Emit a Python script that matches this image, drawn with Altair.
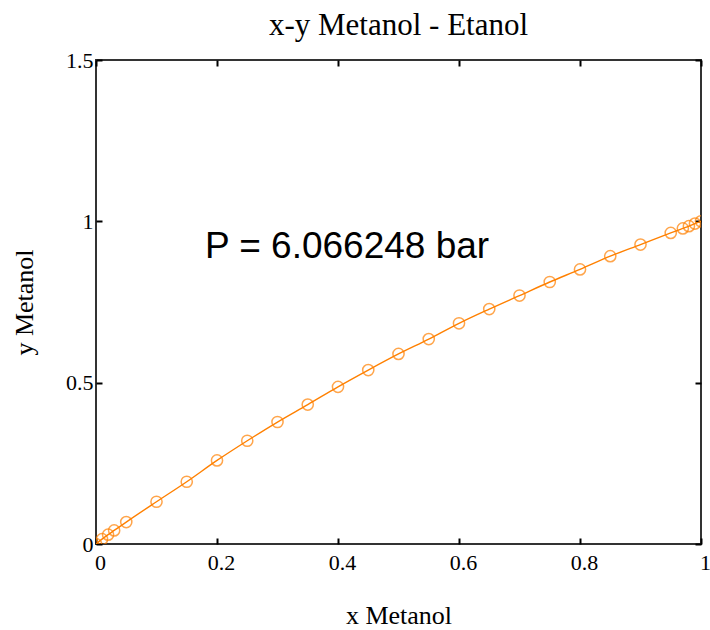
import altair as alt
import pandas as pd

# Liquid (x) and vapour (y) mole fractions of methanol
x_metanol = [0.00, 0.01, 0.02, 0.03, 0.05, 0.10, 0.15, 0.20, 0.25, 0.30, 0.35,
             0.40, 0.45, 0.50, 0.55, 0.60, 0.65, 0.70, 0.75, 0.80, 0.85, 0.90,
             0.95, 0.97, 0.98, 0.99, 1.00]
y_metanol = [0.000, 0.015, 0.029, 0.042, 0.068, 0.131, 0.193, 0.259, 0.320, 0.378, 0.432,
             0.487, 0.539, 0.589, 0.635, 0.684, 0.728, 0.770, 0.812, 0.851, 0.892, 0.928,
             0.964, 0.978, 0.985, 0.993, 1.000]

x_ticks = [0, 0.2, 0.4, 0.6, 0.8, 1.0]
y_ticks = [0, 0.5, 1.0, 1.5]

pressure_text = ["P = 6.066248 bar"]
pressure_x = [0.18]
pressure_y = [0.886]

ORANGE = "#ff8000"
SERIF = "Liberation Serif"

df = pd.DataFrame({"x": x_metanol, "y": y_metanol})
df_label = pd.DataFrame({"x": pressure_x, "y": pressure_y, "t": pressure_text})

xs = alt.Scale(domain=[0, 1], nice=False, zero=False)
ys = alt.Scale(domain=[0, 1.5], nice=False, zero=False)

common_axis = dict(
    grid=False, domain=False, tickSize=6, offset=-6, tickColor="black", tickWidth=2,
    labelFont=SERIF, labelFontSize=22, labelColor="black", labelFlush=False,
    titleFont=SERIF, titleFontSize=26, titleFontWeight="normal", titleColor="black",
    format="~g",
)

line = alt.Chart(df).mark_line(color=ORANGE, strokeWidth=1.4, interpolate="monotone", clip=True).encode(
    x=alt.X("x:Q", scale=xs, axis=alt.Axis(orient="bottom", values=x_ticks, title="x Metanol",
                                           labelPadding=8, labelOffset=4, titleY=85,
                                           titleBaseline="alphabetic", **common_axis)),
    y=alt.Y("y:Q", scale=ys, axis=alt.Axis(orient="left", values=y_ticks, title="y Metanol",
                                           labelPadding=3, titleX=-70,
                                           titleBaseline="alphabetic", **common_axis)),
)

points = alt.Chart(df).mark_point(shape="circle", filled=False, size=125, strokeWidth=1.5,
                                  color=ORANGE, clip=True).encode(
    x=alt.X("x:Q", scale=xs, axis=alt.Axis(orient="top", values=x_ticks, title=None,
                                           labels=False, **common_axis)),
    y=alt.Y("y:Q", scale=ys, axis=alt.Axis(orient="right", values=y_ticks, title=None,
                                           labels=False, **common_axis)),
)

label = alt.Chart(df_label).mark_text(font="Liberation Sans", fontSize=37, color="black",
                                      align="left", baseline="alphabetic").encode(
    x=alt.X("x:Q", scale=xs, axis=None),
    y=alt.Y("y:Q", scale=ys, axis=None),
    text="t:N",
)

chart = alt.layer(line, points, label).resolve_axis(
    x="independent", y="independent"
).properties(
    width=605,
    height=484,
    autosize=alt.AutoSizeParams(type="none"),
    padding={"left": 96, "top": 60, "right": 9, "bottom": 86},
    title=alt.Title("x-y Metanol - Etanol", font=SERIF, fontSize=31, fontWeight="normal",
                    color="black", anchor="middle", frame="group", offset=23,
                    baseline="alphabetic", dy=40),
).configure(
    background="white"
).configure_view(
    stroke="#333333", strokeWidth=2
)

chart.save("out.html", embed_options={"renderer": "svg", "actions": False})
